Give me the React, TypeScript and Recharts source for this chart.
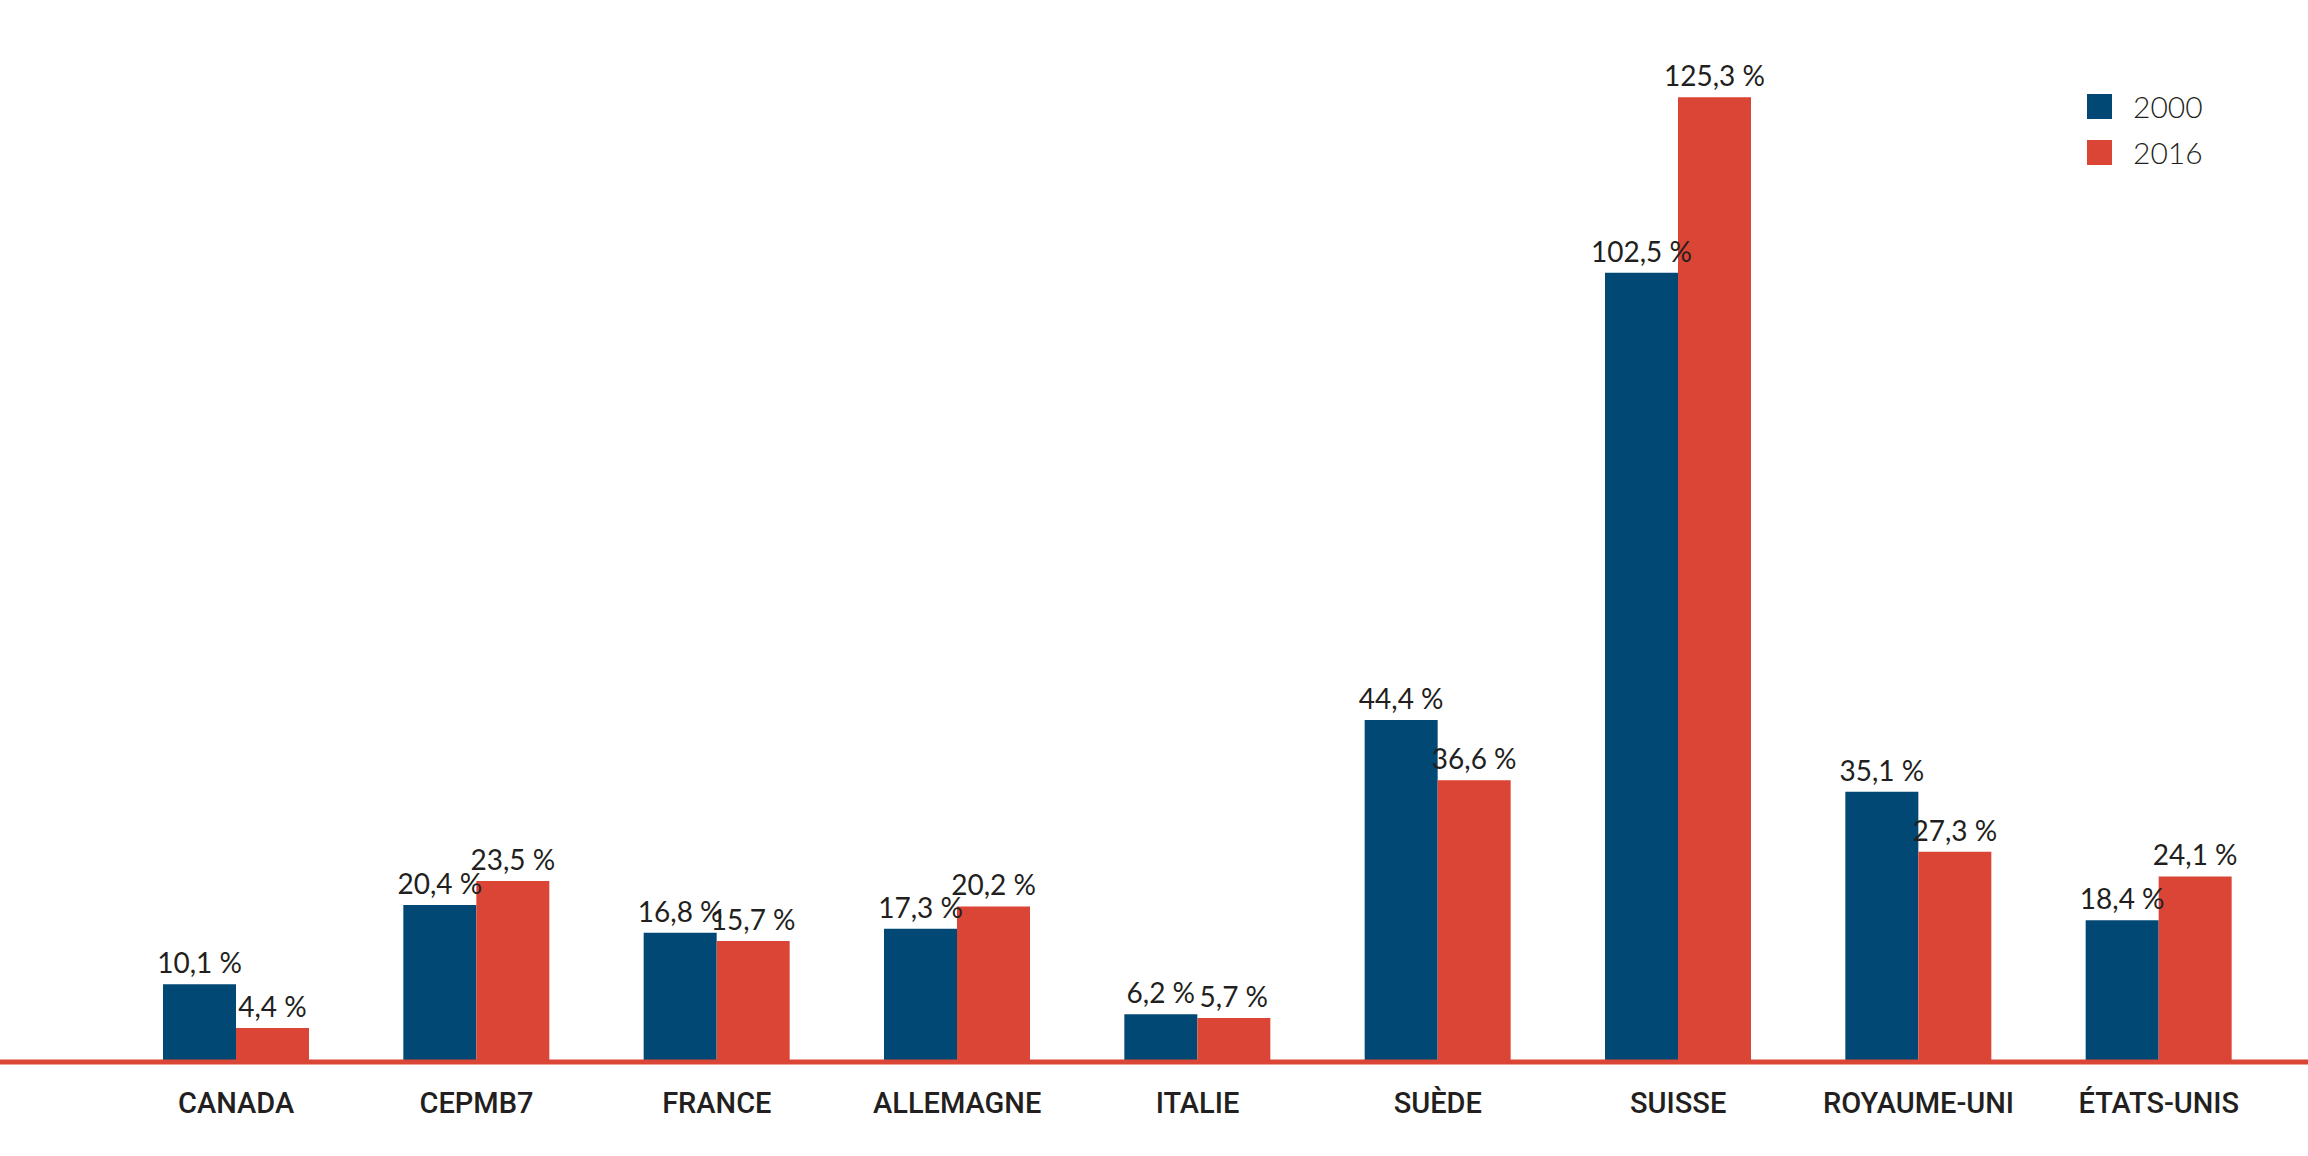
import React from 'react';
import { BarChart, Bar, XAxis, YAxis, LabelList } from 'recharts';

const countries = ['CANADA', 'CEPMB7', 'FRANCE', 'ALLEMAGNE', 'ITALIE', 'SUÈDE', 'SUISSE', 'ROYAUME-UNI', 'ÉTATS-UNIS'];
const values2000 = [10.1, 20.4, 16.8, 17.3, 6.2, 44.4, 102.5, 35.1, 18.4];
const values2016 = [4.4, 23.5, 15.7, 20.2, 5.7, 36.6, 125.3, 27.3, 24.1];
const seriesNames = ['2000', '2016'];

const BLUE = '#024874';
const RED = '#db4535';
const TEXT = '#231f20';

const data = countries.map((c, i) => ({ name: c, y2000: values2000[i], y2016: values2016[i] }));

// "10,1 %" style labels
const fmt = (v: any) => `${Number(v).toFixed(1).replace('.', ',')} %`;

const valueLabelStyle = { fontFamily: 'Lato, sans-serif', fontSize: 28, fill: TEXT };

const App: React.FC = () => {
  return (
    <div style={{ position: 'absolute', left: 0, top: 0, width: 2308, height: 1156, background: '#fff' }}>
      <BarChart
        width={2308}
        height={1156}
        data={data}
        margin={{ top: 61, right: 0, left: 0, bottom: 0 }}
        barGap={0}
        barSize={73}
      >
        <YAxis hide domain={[0, 130]} />
        <XAxis
          dataKey="name"
          height={94}
          padding={{ left: 116, right: 29 }}
          axisLine={{ stroke: RED, strokeWidth: 5 }}
          tickLine={false}
          tickSize={0}
          tickMargin={30}
          tick={{ fontFamily: 'Roboto, sans-serif', fontSize: 29, fontWeight: 500, fill: TEXT }}
          interval={0}
        />
        <Bar dataKey="y2000" name={seriesNames[0]} fill={BLUE} isAnimationActive={false}>
          <LabelList dataKey="y2000" position="top" offset={11} formatter={fmt} style={valueLabelStyle} />
        </Bar>
        <Bar dataKey="y2016" name={seriesNames[1]} fill={RED} isAnimationActive={false}>
          <LabelList dataKey="y2016" position="top" offset={11} formatter={fmt} style={valueLabelStyle} />
        </Bar>
      </BarChart>
      {/* legend, top right */}
      <div style={{ position: 'absolute', left: 2087, top: 94, fontFamily: 'Lato, sans-serif', fontSize: 30, fontWeight: 300, color: TEXT }}>
        {seriesNames.map((s, i) => (
          <div key={s} style={{ display: 'flex', alignItems: 'center', height: 25, marginBottom: 21 }}>
            <div style={{ width: 25, height: 25, background: i === 0 ? BLUE : RED }} />
            <span style={{ marginLeft: 21, lineHeight: '25px' }}>{s}</span>
          </div>
        ))}
      </div>
    </div>
  );
};

export default App;
